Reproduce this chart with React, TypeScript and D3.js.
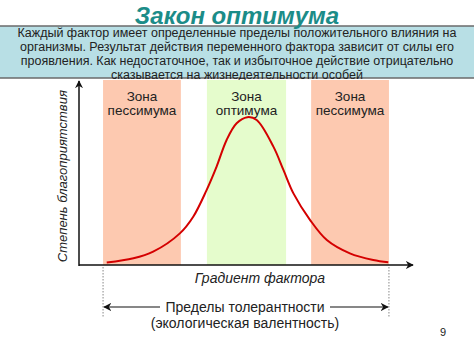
import { useEffect, useRef } from "react";
import * as d3 from "d3";

const W = 474;
const H = 355;

const TITLE = "Закон оптимума";
const INFO_LINES = [
  "Каждый фактор имеет определенные пределы положительного влияния на",
  "организмы. Результат действия переменного фактора зависит от силы его",
  "проявления. Как недостаточное, так и избыточное действие отрицательно",
  "сказывается на жизнедеятельности особей",
];

// zones along the factor gradient (0..100)
const ZONE_NAMES = [
  ["Зона", "пессимума"],
  ["Зона", "оптимума"],
  ["Зона", "пессимума"],
];
const ZONE_START = [7.2, 38.3, 69.5];
const ZONE_END = [30.5, 62, 92.8];
const ZONE_KIND = ["pess", "opt", "pess"];

// response curve (gradient, wellbeing 0..100)
const CURVE_X = [8.3, 16.3, 22.2, 30.2, 34.2, 38.2, 41.2, 44.2, 47.2, 50.4, 53.2, 58.2, 61.2, 64.2, 69.2, 74.2, 81.1, 88.1, 92.6];
const CURVE_Y = [1.3, 3.6, 7.2, 17.1, 26.1, 40.5, 53.2, 67.6, 76.6, 79.9, 78.4, 64, 51.4, 38.7, 24.3, 13.5, 6.3, 2.7, 1.5];

const Y_LABEL = "Степень благоприятствия";
const X_LABEL = "Градиент фактора";
const TOL_LINES = ["Пределы толерантности", "(экологическая валентность)"];
const PAGE = "9";

const COLORS = { pess: "#fdc9b0", opt: "#e5fccc" };

const App = () => {
  const svgRef = useRef(null);

  useEffect(() => {
    const svg = d3.select(svgRef.current);
    svg.selectAll("*").remove();
    const font = "Arial, 'Liberation Sans', sans-serif";

    const x = d3.scaleLinear().domain([0, 100]).range([79, 413]);
    const y = d3.scaleLinear().domain([0, 100]).range([265, 80]);

    svg.append("rect").attr("width", W).attr("height", H).attr("fill", "#fff");

    // info box
    svg.append("rect").attr("x", 0).attr("y", 26).attr("width", W).attr("height", 52).attr("fill", "#b8dfe5");
    svg.append("line").attr("x1", 0).attr("x2", W).attr("y1", 26).attr("y2", 26).attr("stroke", "#6a6a6a").attr("stroke-width", 1.5);
    svg.append("line").attr("x1", 0).attr("x2", W).attr("y1", 78).attr("y2", 78).attr("stroke", "#6a6a6a").attr("stroke-width", 1.5);

    svg
      .append("text")
      .attr("x", 237)
      .attr("y", 24)
      .attr("text-anchor", "middle")
      .attr("font-family", font)
      .attr("font-size", 24)
      .attr("font-weight", "bold")
      .attr("font-style", "italic")
      .attr("fill", "#1b8c88")
      .text(TITLE);

    svg
      .append("g")
      .selectAll("text")
      .data(INFO_LINES)
      .join("text")
      .attr("x", 237)
      .attr("y", (d, i) => 37 + i * 14)
      .attr("text-anchor", "middle")
      .attr("font-family", font)
      .attr("font-size", 12.5)
      .attr("fill", "#222")
      .text((d) => d);

    // zones
    const zones = svg.append("g");
    ZONE_START.forEach((s, i) => {
      zones
        .append("rect")
        .attr("x", x(s))
        .attr("y", y(100))
        .attr("width", x(ZONE_END[i]) - x(s))
        .attr("height", y(0) - y(100))
        .attr("fill", COLORS[ZONE_KIND[i]]);
      ZONE_NAMES[i].forEach((t, j) => {
        zones
          .append("text")
          .attr("x", (x(s) + x(ZONE_END[i])) / 2)
          .attr("y", 101 + j * 14)
          .attr("text-anchor", "middle")
          .attr("font-family", font)
          .attr("font-size", 13.5)
          .attr("fill", "#222")
          .text(t);
      });
    });

    // curve
    const line = d3
      .line<number>()
      .x((d) => x(d))
      .y((d, i) => y(CURVE_Y[i]))
      .curve(d3.curveCatmullRom.alpha(0.5));
    svg.append("path").attr("d", line(CURVE_X)).attr("fill", "none").attr("stroke", "#d40000").attr("stroke-width", 2);

    // axes
    svg.append("defs")
      .append("marker")
      .attr("id", "arr")
      .attr("viewBox", "0 0 10 10")
      .attr("refX", 9)
      .attr("refY", 5)
      .attr("markerWidth", 8)
      .attr("markerHeight", 8)
      .attr("markerUnits", "userSpaceOnUse")
      .attr("orient", "auto-start-reverse")
      .append("path")
      .attr("d", "M0,0 L10,5 L0,10 L3,5 Z")
      .attr("fill", "#111");

    svg.append("line").attr("x1", x(0)).attr("x2", x(0)).attr("y1", y(0) + 1).attr("y2", 81).attr("stroke", "#111").attr("stroke-width", 1.5).attr("marker-end", "url(#arr)");
    svg.append("line").attr("x1", x(0)).attr("x2", x(100)).attr("y1", y(0)).attr("y2", y(0)).attr("stroke", "#111").attr("stroke-width", 1.5).attr("marker-end", "url(#arr)");

    svg
      .append("text")
      .attr("transform", `translate(67,${y(48)}) rotate(-90)`)
      .attr("text-anchor", "middle")
      .attr("font-family", font)
      .attr("font-size", 13)
      .attr("font-style", "italic")
      .attr("fill", "#222")
      .text(Y_LABEL);

    svg
      .append("text")
      .attr("x", 260)
      .attr("y", 283)
      .attr("text-anchor", "middle")
      .attr("font-family", font)
      .attr("font-size", 14)
      .attr("font-style", "italic")
      .attr("fill", "#222")
      .text(X_LABEL);

    // tolerance limits
    const tolL = x(ZONE_START[0]);
    const tolR = x(ZONE_END[2]);
    [tolL, tolR].forEach((v) => {
      svg.append("line").attr("x1", v).attr("x2", v).attr("y1", y(0) + 2).attr("y2", 318).attr("stroke", "#888").attr("stroke-width", 1).attr("stroke-dasharray", "1.5,1.5");
    });
    svg.append("line").attr("x1", 160).attr("x2", tolL + 1).attr("y1", 307).attr("y2", 307).attr("stroke", "#111").attr("stroke-width", 1.2).attr("marker-end", "url(#arr)");
    svg.append("line").attr("x1", 330).attr("x2", tolR - 1).attr("y1", 307).attr("y2", 307).attr("stroke", "#111").attr("stroke-width", 1.2).attr("marker-end", "url(#arr)");

    TOL_LINES.forEach((t, i) => {
      svg
        .append("text")
        .attr("x", 245)
        .attr("y", 312 + i * 16)
        .attr("text-anchor", "middle")
        .attr("font-family", font)
        .attr("font-size", 14)
        .attr("fill", "#222")
        .text(t);
    });

    svg
      .append("text")
      .attr("x", 443)
      .attr("y", 336)
      .attr("text-anchor", "middle")
      .attr("font-family", font)
      .attr("font-size", 11)
      .attr("fill", "#222")
      .text(PAGE);
  }, []);

  return (
    <svg
      ref={svgRef}
      width={W}
      height={H}
      style={{ position: "absolute", left: 0, top: 0, display: "block" }}
    ></svg>
  );
};

export default App;
